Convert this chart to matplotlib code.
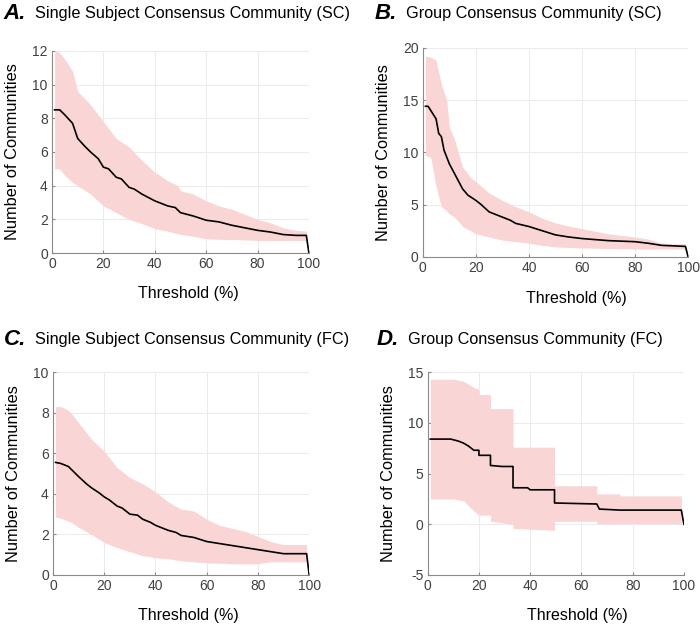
import numpy as np
import matplotlib.pyplot as plt

plt.rcParams['font.family'] = ['Liberation Sans', 'DejaVu Sans']
plt.rcParams['axes.unicode_minus'] = False

# ---- panel A: single subject consensus (SC) ----
a_x = [1, 3, 5, 8, 10, 13, 15, 18, 20, 22, 25, 27, 30, 32, 35, 40, 45, 48, 50,
       55, 60, 65, 70, 75, 80, 85, 90, 95, 99, 100]
a_mean = [8.5, 8.5, 8.2, 7.7, 6.8, 6.3, 6.0, 5.6, 5.1, 5.0, 4.5, 4.4, 3.9, 3.8, 3.5,
          3.1, 2.8, 2.7, 2.4, 2.2, 1.95, 1.85, 1.65, 1.5, 1.35, 1.25, 1.1, 1.05, 1.05, 0]
a_bx = [1, 3, 5, 8, 10, 15, 20, 25, 30, 35, 40, 45, 49, 50, 55, 60, 65, 70, 75,
        80, 85, 90, 95, 99]
a_upper = [12, 11.9, 11.5, 10.8, 9.6, 8.8, 7.8, 6.8, 6.3, 5.5, 4.8, 4.3, 4.0, 3.7,
           3.5, 3.1, 2.8, 2.6, 2.3, 2.0, 1.8, 1.5, 1.35, 1.3]
a_lower = [5.0, 5.0, 4.6, 4.2, 4.0, 3.5, 2.8, 2.4, 2.0, 1.75, 1.45, 1.3, 1.15, 1.1,
           1.0, 0.85, 0.82, 0.8, 0.78, 0.75, 0.75, 0.75, 0.75, 0.75]

# ---- panel B: group consensus (SC) ----
b_x = [1, 2, 3, 5, 6, 7, 8, 10, 12.5, 15, 17, 20, 22, 25, 27, 30, 33, 35, 40,
       45, 50, 55, 60, 70, 80, 85, 90, 99, 100]
b_mean = [14.4, 14.4, 14.0, 13.2, 11.8, 11.5, 10.2, 8.9, 7.7, 6.5, 5.9, 5.4,
          5.0, 4.3, 4.1, 3.8, 3.5, 3.2, 2.9, 2.5, 2.1, 1.9, 1.75, 1.55, 1.45, 1.3,
          1.1, 1.0, 0]
b_bx = [1, 3, 5, 7, 9, 10, 12, 15, 18, 20, 25, 30, 35, 40, 45, 50, 55, 60, 70,
        80, 85, 90, 95, 99]
b_upper = [19.2, 19.1, 18.8, 16.5, 15.0, 12.4, 11.2, 8.6, 7.6, 7.2, 6.1, 5.4, 4.8,
           4.3, 3.7, 3.25, 2.95, 2.7, 2.2, 1.9, 1.7, 1.3, 1.25, 1.25]
b_lower = [9.7, 9.5, 6.7, 4.8, 4.4, 4.1, 3.8, 2.9, 2.5, 2.2, 1.9, 1.6, 1.45, 1.3,
           1.1, 0.95, 0.9, 0.85, 0.8, 0.75, 0.75, 0.75, 0.75, 0.75]

# ---- panel C: single subject consensus (FC) ----
c_x = [1, 3, 6, 8, 10, 13, 15, 18, 20, 22, 25, 27, 30, 33, 35, 38, 40, 45, 48, 50,
       55, 60, 65, 70, 75, 80, 85, 90, 99, 100]
c_mean = [5.55, 5.5, 5.35, 5.1, 4.85, 4.5, 4.3, 4.05, 3.85, 3.7, 3.4, 3.3, 3.0, 2.95,
          2.75, 2.6, 2.45, 2.2, 2.1, 1.95, 1.85, 1.65, 1.55, 1.45, 1.35, 1.25, 1.15,
          1.05, 1.05, 0]
c_bx = [1, 3, 5, 7, 10, 15, 20, 25, 30, 35, 40, 45, 50, 55, 60, 65, 70, 75, 80,
        82, 85, 90, 95, 99]
c_upper = [8.3, 8.3, 8.2, 8.0, 7.5, 6.7, 6.1, 5.3, 4.8, 4.5, 4.1, 3.6, 3.25, 3.15,
           2.75, 2.45, 2.3, 2.15, 1.9, 1.8, 1.65, 1.5, 1.5, 1.5]
c_lower = [2.85, 2.8, 2.7, 2.6, 2.35, 2.0, 1.6, 1.35, 1.15, 0.95, 0.85, 0.8, 0.7,
           0.65, 0.6, 0.58, 0.55, 0.55, 0.55, 0.6, 0.65, 0.65, 0.65, 0.65]

# ---- panel D: group consensus (FC), stepwise ----
d_x = [1, 9, 12, 14, 16, 18, 20, 20, 24.5, 24.5, 29, 33.3, 33.3, 39, 40, 49.5,
       49.5, 66, 67, 75, 99, 100]
d_mean = [8.4, 8.4, 8.2, 8.0, 7.7, 7.3, 7.3, 6.8, 6.8, 5.8, 5.7, 5.7, 3.6, 3.6,
          3.4, 3.4, 2.1, 2.0, 1.5, 1.4, 1.4, 0]
d_bx = [1, 10, 14, 18, 20, 20, 24.5, 24.5, 33.3, 33.3, 49.5, 49.5, 66, 66, 75, 75, 99]
d_upper = [14.3, 14.3, 14.1, 13.5, 13.3, 12.8, 12.8, 11.4, 11.4, 7.6, 7.6, 3.8, 3.8,
           3.0, 3.0, 2.8, 2.8]
d_lower = [2.5, 2.5, 2.3, 1.3, 0.9, 0.9, 0.9, 0.3, 0.0, -0.4, -0.6, 0.3, 0.3, 0.05,
           0.05, 0.05, 0.05]

panels = [
    ('A.', 'Single Subject Consensus Community (SC)', [0.0743, 0.597, 0.367, 0.322],
     a_x, a_mean, a_bx, a_upper, a_lower, (0, 12), np.arange(0, 13, 2), 0.53),
    ('B.', 'Group Consensus Community (SC)', [0.604, 0.591, 0.379, 0.333],
     b_x, b_mean, b_bx, b_upper, b_lower, (0, 20), np.arange(0, 21, 5), 0.577),
    ('C.', 'Single Subject Consensus Community (FC)', [0.0757, 0.0844, 0.366, 0.323],
     c_x, c_mean, c_bx, c_upper, c_lower, (0, 10), np.arange(0, 11, 2), 0.53),
    ('D.', 'Group Consensus Community (FC)', [0.611, 0.0844, 0.366, 0.323],
     d_x, d_mean, d_bx, d_upper, d_lower, (-5, 15), np.arange(-5, 16, 5), 0.585),
]

title_pos = {'A.': (0.005, 0.978), 'B.': (0.535, 0.978),
             'C.': (0.005, 0.46), 'D.': (0.538, 0.46)}

fig = plt.figure(figsize=(7, 6.28), dpi=100)
spine_col = '#8a8a8a'

for letter, title, rect, x, m, bx, up, lo, ylim, yt, xlab_x in panels:
    ax = fig.add_axes(rect)
    ax.fill_between(bx, lo, up, color='#f9d5d6', linewidth=0)
    ax.plot(x, m, color='black', linewidth=1.2)
    ax.set_xlim(0, 100)
    ax.set_ylim(*ylim)
    ax.set_xticks(np.arange(0, 101, 20))
    ax.set_yticks(yt)
    ax.grid(True, color='#ebebeb', linewidth=0.7)
    ax.set_axisbelow(True)
    for s in ('top', 'right'):
        ax.spines[s].set_visible(False)
    for s in ('left', 'bottom'):
        ax.spines[s].set_color(spine_col)
        ax.spines[s].set_linewidth(0.8)
    ax.tick_params(direction='in', length=2.5, color=spine_col, labelsize=10,
                   labelcolor='#404040', pad=3)
    ax.set_xlabel('Threshold (%)', fontsize=11.5)
    ax.xaxis.set_label_coords(xlab_x, -0.165)
    ax.set_ylabel('Number of Communities', fontsize=11.8, labelpad=9)

    tx, ty = title_pos[letter]
    fig.text(tx, ty, letter, fontsize=16, fontweight='bold', fontstyle='italic',
             va='center', ha='left')
    fig.text(tx + 0.045, ty, title, fontsize=11.7, va='center', ha='left')

fig.savefig('out.png', dpi=100)
